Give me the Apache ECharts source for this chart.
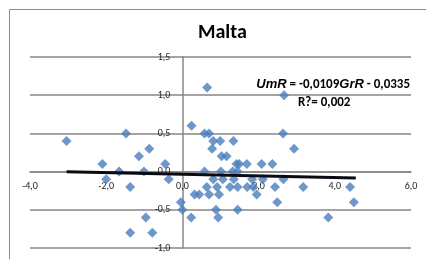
<!DOCTYPE html>
<html>
<head>
<meta charset="utf-8">
<script src="https://cdn.jsdelivr.net/npm/echarts@6/dist/echarts.min.js"></script>
<style>
  html, body { margin: 0; padding: 0; background: #fff; }
  #main { width: 426px; height: 259px; }
</style>
</head>
<body>
<div id="main"></div>
<script>
// GrR (x) and UmR (y) values for Malta
const grR = [
  -3.04, -1.48, -1.14, -0.87, -2.10, -2.00, -1.66, -1.37, -1.01, -0.45,
  -0.36, -0.96, -1.37, -0.79, -0.04, 0.00, 0.23, 0.32, 0.44, 0.58,
  0.64, 0.70, 0.58, 0.70, 0.81, 0.78, 0.81, 0.88, 0.94, 0.91,
  0.96, 0.99, 1.01, 1.03, 1.16, 1.06, 1.25, 1.34, 1.32, 1.35,
  1.42, 1.49, 1.45, 1.45, 1.45, 1.69, 1.70, 1.83, 1.86, 1.95,
  2.08, 2.11, 2.36, 2.43, 2.49, 2.64, 2.65, 2.93, 3.17, 3.83,
  4.40, 4.50, 0.65, 2.67, 0.24
];
const umR = [
  0.4, 0.5, 0.2, 0.3, 0.1, -0.1, 0.0, -0.2, 0.0, 0.1,
  -0.1, -0.6, -0.8, -0.8, -0.4, -0.5, -0.6, -0.3, -0.3, 0.0,
  -0.2, -0.3, 0.5, 0.5, 0.4, 0.3, -0.1, -0.5, -0.6, -0.2,
  -0.3, 0.4, 0.0, 0.2, 0.2, -0.1, -0.2, 0.4, 0.0, -0.1,
  0.1, 0.1, 0.0, -0.2, -0.5, 0.1, -0.2, -0.1, -0.2, -0.3,
  0.1, -0.1, 0.1, -0.2, -0.4, 0.5, -0.1, 0.3, -0.2, -0.6,
  -0.2, -0.4, 1.1, 1.0, 0.6
];
// linear trend: UmR = slope * GrR + intercept
const slope = -0.0109;
const intercept = -0.0335;
const trendX = [-3.04, 4.55];

const points = grR.map((x, i) => [x, umR[i]]);
const trend = trendX.map(x => [x, slope * x + intercept]);
const fmt = v => v.toFixed(1).replace('.', ',');

// plot box
const gLeft = 30, gRight = 15, gTop = 57, gBottom = 11;
const plotW = 426 - gLeft - gRight, plotH = 259 - gTop - gBottom;
const xMin = -4, xMax = 6, yMin = -1, yMax = 1.5;
// shift axes so they cross at zero (labels included)
const xOffset = -plotH * (0 - yMin) / (yMax - yMin);
const yOffset = -plotW * (0 - xMin) / (xMax - xMin);

const chart = echarts.init(document.getElementById('main'));
chart.setOption({
  backgroundColor: '#fff',
  animation: false,
  textStyle: { fontFamily: 'Carlito, Lato, "Open Sans", sans-serif' },
  title: {
    text: 'Malta',
    left: 193,
    top: 18,
    textStyle: { fontSize: 20, fontWeight: 'bold', color: '#000' }
  },
  graphic: [
    {
      type: 'rect',
      left: 7, top: 7,
      shape: { width: 480, height: 300 },
      style: { fill: 'none', stroke: '#8c8c8c', lineWidth: 1 },
      silent: true
    },
    {
      type: 'text',
      right: 16, top: 78,
      style: {
        text: '{i|UmR} = -0,0109{i|GrR} - 0,0335',
        font: 'bold 13px Carlito, Lato, sans-serif',
        fill: '#000',
        rich: { i: { fontStyle: 'italic', fontWeight: 'bold', fontSize: 13 } }
      }
    },
    {
      type: 'text',
      left: 298, top: 96,
      style: { text: 'R?= 0,002', font: 'bold 13px Carlito, Lato, sans-serif', fill: '#000' }
    }
  ],
  grid: { left: gLeft, right: gRight, top: gTop, bottom: gBottom, containLabel: false },
  xAxis: {
    type: 'value',
    min: xMin, max: xMax, interval: 2,
    offset: xOffset,
    axisLine: { onZero: false, lineStyle: { color: '#868686', width: 1.5 } },
    axisTick: { show: false },
    splitLine: { show: false },
    axisLabel: { formatter: fmt, color: '#222', fontSize: 10, margin: 10, showMinLabel: true, showMaxLabel: true }
  },
  yAxis: {
    type: 'value',
    min: yMin, max: yMax, interval: 0.5,
    offset: yOffset,
    axisLine: { show: true, onZero: false, lineStyle: { color: '#868686', width: 1.5 } },
    axisTick: { show: false },
    splitLine: { show: true, lineStyle: { color: '#868686', width: 1.5 } },
    axisLabel: { formatter: fmt, color: '#222', fontSize: 10, margin: 12 }
  },
  series: [
    {
      type: 'scatter',
      data: points,
      symbol: 'diamond',
      symbolSize: 10,
      itemStyle: { color: '#4A7EBB' },
      z: 3
    },
    {
      type: 'line',
      data: trend,
      symbol: 'none',
      lineStyle: { color: '#0a0a14', width: 3 },
      z: 4
    }
  ]
});
</script>
</body>
</html>
